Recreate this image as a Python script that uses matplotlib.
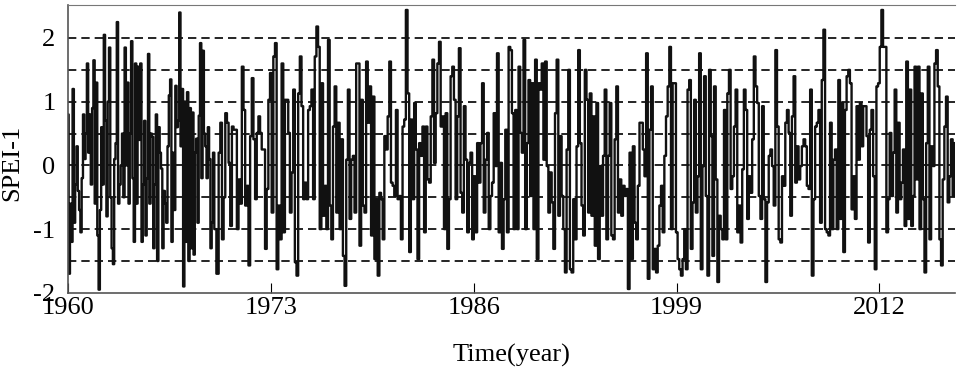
import numpy as np
import matplotlib
matplotlib.use("Agg")
import matplotlib.pyplot as plt

# SPEI-1 monthly values
spei_1960_1969 = [
    0.8, -1.7, -0.6, -1.2, 1.2, -0.9, -0.3, 0.3, -0.4, -0.7, -1.05, -0.2,
    0.8, 0.1, 0.5, 1.6, 0.2, 0.8, -0.3, 0.9, 1.65, -0.6, 1.3, -1.1,
    -1.95, -0.7, 0.6, -0.3, 2.05, 0.7, -0.8, 1.0, 1.85, -0.5, -1.3, -1.55,
    0.1, 0.35, 2.25, -0.6, -0.3, 0.0, 0.5, -0.5, 1.85, 0.0, 1.3, -0.6,
    0.5, 1.95, -0.2, -1.2, 1.6, -0.6, 1.55, 0.4,
    1.6, -1.2, -0.3, 0.7, -1.1, -0.2, 1.75, -0.6, 0.5, 0.45, -1.3, -0.3,
    0.8, -1.5, 0.6, 0.2, -0.05, -1.3, -0.4, -0.6, -0.9, 0.3, 1.1, 1.35,
    -1.2, 0.2, -0.7, 1.25, 0.6, 0.7, 2.4, 0.3, 1.2, -1.9, 1.0, -1.2,
    1.15, -1.5, 0.9, -1.3, 0.83, -1.4, 0.2, 0.42, -0.9, 0.78, 1.92, -0.2,
    1.8, 0.5, 0.3, -0.2, 0.6, 0.1, -1.3, -0.9, 0.2, -1.0,
]

spei_1969_2016 = [
    # 1969.6 - 1974.4
    -1.7, 0.2, 0.67, -1.16, -0.5, 0.82, 0.67, 0.04, -0.95, 0.61, 0.56, 0.56,
    -1.0, -0.22, -0.6, 1.55, 0.87, -0.63, -0.32, -1.57, 0.46, 1.37, 0.41, -0.53,
    0.51, 0.77, 0.51, 0.25, 0.25, -1.31, -0.37, 1.03, 1.45, -0.74, 1.71, 1.92,
    -1.63, -0.63, -1.16, 1.6, -1.05, 1.03, 1.03, 0.51, -0.74, -0.11,
    # 1974.4 - 1979.3
    1.19, -1.52, -1.73, 1.13, 1.71, 0.93, -0.53, -0.27, -0.53, 0.87, 0.93, 1.19,
    -0.53, 1.71, 2.18, 1.86, -1.0, 1.29, -0.79, -0.32, -1.0, 1.97, -0.63, -1.16,
    0.61, 1.24, -0.74, 0.67, -1.0, 0.41, -1.42, -1.89, 0.09, 1.19, -0.84, 0.09,
    0.15, -0.74, 1.6, 1.6, -1.26, 1.03, -0.63, -0.74, 1.63, 0.67,
    # 1979.3 - 1984.2
    1.24, -1.1, 1.08, -1.47, -0.53, -1.73, -0.43, -0.53, -1.16, 0.46, 0.25, 0.77,
    1.63, -0.27, -0.32, -0.48, 0.87, -0.53, -0.48, -1.16, 0.61, 0.72, 2.44, 1.13,
    -1.36, 0.72, -0.53, 0.98, 0.25, -1.47, 0.35, 0.15, 0.61, -1.05, 0.61, -0.22,
    -0.27, 0.77, 1.66, 0.04, 0.82, 1.6, 1.94, 0.61, 0.77, -1.0,
    # 1984.2 - 1989.0
    0.82, -1.31, -0.53, 1.4, 1.55, 1.03, -0.53, 0.77, 1.84, -0.43, -0.74, 0.93,
    0.09, -1.05, 0.04, 0.2, -1.16, -0.17, -1.05, 0.35, -0.27, 0.35, 1.29, -0.74,
    0.09, 0.51, -1.0, -0.48, -0.27, 0.82, -0.01, 1.76, -1.05, 0.04, -1.31, -0.53,
    0.56, -1.05, 1.86, 1.81, 0.82, -1.0, 0.87, -1.0, 1.55, 0.51,
    # 1989.0 - 1993.9
    0.2, 1.97, -1.0, 0.35, 1.34, -0.48, 1.29, -1.0, 1.66, -1.47, 1.29, 1.19,
    1.6, 0.09, 1.63, -0.01, -0.74, -0.11, -0.58, -1.31, 0.82, 1.66, -0.79, 0.46,
    -0.48, -1.0, -1.68, 0.25, 1.5, -1.63, -1.68, -0.53, -1.16, 0.3, 1.81, 0.35,
    -0.63, -1.1, 1.5, 1.03, -0.74, 1.13, -0.79, 0.77, -1.26, 0.98,
    # 1993.9 - 1998.8
    -1.47, -0.01, -0.79, 0.15, 1.19, -1.16, 0.15, 0.98, -1.1, -1.16, 0.41, 1.24,
    -0.74, -0.22, -0.79, -0.32, -0.48, -0.37, -1.94, 0.2, -1.47, 0.3, -0.9, -1.16,
    -0.32, 0.67, 0.67, 0.25, -0.17, 1.76, -1.78, 0.56, 1.24, -1.63, -1.31, -1.68,
    -1.26, -0.63, -0.32, -1.05, 0.15, 0.77, 1.24, 1.86, -1.0, 1.29,
    # 1998.8 - 2003.7
    1.29, -1.05, -1.47, -1.63, -1.73, -1.47, -1.0, -1.63, 1.19, 1.34, -1.31, -0.58,
    1.03, -0.74, -0.17, 1.76, -1.63, -0.01, 1.4, -0.48, -1.73, 1.5, 0.46, -1.42,
    1.24, -0.22, -1.83, -0.79, -1.0, -1.16, 0.87, -1.16, 1.13, 1.5, -0.37, -0.17,
    0.61, 1.19, -1.05, -0.63, -1.21, -0.06, 1.19, 0.87, -0.84, -0.17,
    # 2003.7 - 2008.6
    -0.43, 0.41, 1.71, 1.24, 0.98, -0.48, -0.84, 0.93, -0.53, -1.83, -0.58, 0.15,
    0.25, -0.01, -0.63, 1.81, 0.61, -1.16, -1.21, -0.17, -0.32, 0.67, 0.87, 0.51,
    -0.79, 0.77, 1.4, -0.27, 0.3, -0.22, -0.01, 0.3, 0.41, 0.3, -0.32, -0.37,
    1.19, -1.73, -0.53, 0.61, 0.67, 0.87, -0.9, 1.34, 2.13, -1.0,
    # 2008.6 - 2013.4
    -1.05, -1.1, 0.67, -1.0, 0.09, 0.25, -1.0, 1.34, -0.84, 0.98, -1.36, 0.87,
    1.4, 1.5, 1.29, -0.69, -0.17, -0.84, 0.93, 0.09, 0.98, 0.3, 0.93, 0.93,
    0.46, -1.21, 0.56, 0.87, -0.17, -1.63, 1.24, 1.29, 1.86, 2.44, 1.86, 1.86,
    -1.05, -0.53, 0.51, -0.48, 0.2, 1.19, -0.74, 0.67, -0.53, -0.27,
    # 2013.6 - 2016.9
    0.25, -0.95, 1.63, -0.84, 1.19, -0.95, -0.48, 1.55, -0.22, 1.55, -1.0, 1.13,
    -0.53, -1.68, 0.35, 1.55, -1.16, 0.3, -0.01, 1.6, 1.81, 1.24, -1.16, -1.57,
    -0.22, 0.61, 1.08, -0.58, -0.17, 0.41, -0.48, 0.35,
]

x_ticks = [1960, 1973, 1986, 1999, 2012]
y_ticks = [-2, -1, 0, 1, 2]
grid_levels = [-1.5, -1.0, -0.5, 0.0, 0.5, 1.0, 1.5, 2.0]

t_early = 1960 + np.arange(len(spei_1960_1969)) / 12.0
t_late = np.linspace(1969.6, 2016.85, len(spei_1969_2016))
t = np.concatenate([t_early, t_late])
spei = np.array(spei_1960_1969 + spei_1969_2016)

plt.rcParams['font.family'] = ['Liberation Serif', 'DejaVu Serif']
plt.rcParams['axes.unicode_minus'] = False

fig = plt.figure(figsize=(9.58, 3.74), dpi=100)
ax = fig.add_axes([0.071, 0.217, 0.926, 0.77])

for lv in grid_levels:
    ax.axhline(lv, color='black', lw=1.2, ls=(0, (5, 3)), zorder=1)

ax.plot(t, spei, color='#111111', lw=1.7, drawstyle='steps-mid', zorder=2)

ax.set_xlim(1960, 2016.85)
ax.set_ylim(-2, 2.52)
ax.set_xticks(x_ticks)
ax.set_yticks(y_ticks)
ax.tick_params(axis='x', direction='in', length=7, labelsize=19, pad=3)
ax.tick_params(axis='y', length=0, labelsize=19, pad=9)
ax.set_xlabel('Time(year)', fontsize=19, labelpad=18)
ax.set_ylabel('SPEI-1', fontsize=19)
ax.yaxis.set_label_coords(-0.05, 0.45)

for side in ['left', 'bottom']:
    ax.spines[side].set_color('#555555')
    ax.spines[side].set_linewidth(1.2)
ax.spines['top'].set_color('#777777')
ax.spines['right'].set_visible(False)

fig.savefig('out.png', dpi=100)
